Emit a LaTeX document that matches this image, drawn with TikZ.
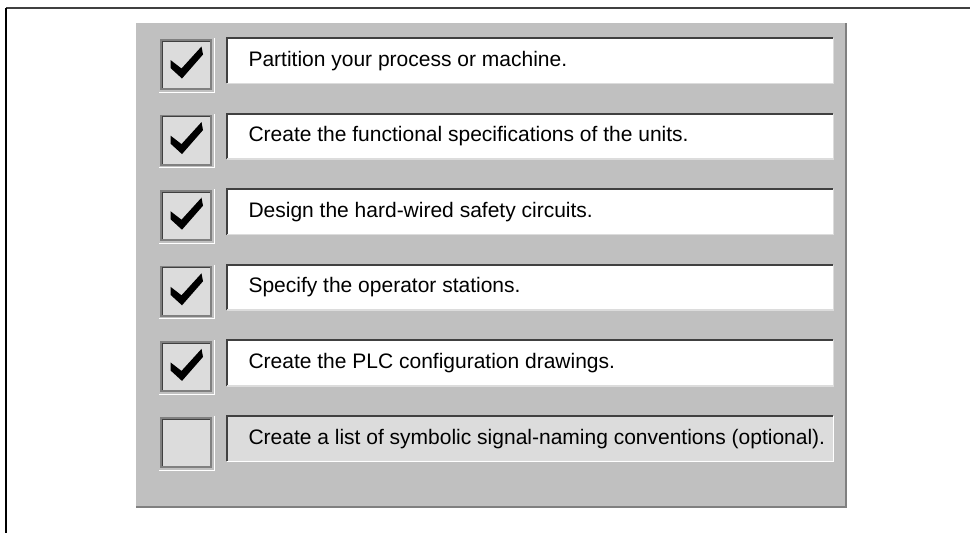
\documentclass[tikz,border=0pt]{standalone}
\usepackage{fontspec}
\setmainfont{Liberation Sans}
\usetikzlibrary{positioning}
\definecolor{panelgray}{HTML}{C0C0C0}
\definecolor{boxgray}{HTML}{DCDCDC}
\definecolor{edgegray}{HTML}{808080}
\definecolor{darkedge}{HTML}{404040}

\begin{document}
\begin{tikzpicture}[x=1pt,y=-1pt]
  \tikzset{chkbox/.style = {draw=edgegray, line width=2pt, fill=boxgray,
      minimum width=50pt, minimum height=49pt, inner sep=0pt},
    taskbox/.style = {minimum width=606pt, minimum height=45pt, inner sep=0pt},
    tasktext/.style = {font=\fontsize{21}{25}\selectfont},
    tick/.style = {fill=black}}
  \useasboundingbox (0,0) rectangle (970,533);
  % outer frame
  \draw[darkedge, line width=2pt] (6,8) -- (970,8);
  \draw[black, line width=2pt] (6,8) -- (6,533);
  % panel
  \fill[panelgray] (136,23) rectangle (847,508);
  \draw[edgegray, line width=2.5pt] (136,507) -- (846,507) -- (846,23);
  \foreach \txt/\fc/\lc [count=\i] in {{Partition your process or machine.}/white/boxgray,
      {Create the functional specifications of the units.}/white/boxgray,
      {Design the hard-wired safety circuits.}/white/boxgray,
      {Specify the operator stations.}/white/boxgray,
      {Create the PLC configuration drawings.}/white/boxgray,
      {Create a list of symbolic signal-naming conventions (optional).}/boxgray/white}{
    \pgfmathsetmacro{\yy}{38+75.6*(\i-1)}
    \node[chkbox] (chk\i) at (186,\yy+26.5) {};
    \draw[white, line width=1pt] ([xshift=-1pt,yshift=-2pt]chk\i.south west) -- ([xshift=2pt,yshift=-2pt]chk\i.south east) -- ([xshift=2pt,yshift=1pt]chk\i.north east);
    \draw[darkedge, line width=1pt] ([xshift=2pt,yshift=2pt]chk\i.south west) -- ([xshift=2pt,yshift=-2pt]chk\i.north west) -- ([xshift=-2pt,yshift=-2pt]chk\i.north east);
    \node[taskbox, fill=\fc, anchor=north west] (task\i) at (227,\yy) {};
    \node[tasktext, anchor=west] (lbl\i) at ([xshift=18pt]task\i.west) {\txt};
    \draw[darkedge, line width=2pt] (task\i.south west) -- (task\i.north west) -- (task\i.north east);
    \draw[\lc, line width=1.5pt] (task\i.south west) -- (task\i.south east) -- (task\i.north east);
  }
  % ticks
  \foreach \i in {1,...,5}{
    \fill[tick] ([shift={(-15.5pt,4.5pt)}]chk\i.center) -- ([shift={(-4.5pt,-4pt)}]chk\i.center)
      -- ([shift={(15.5pt,18pt)}]chk\i.center) -- ([shift={(17pt,10pt)}]chk\i.center)
      -- ([shift={(-4pt,-14pt)}]chk\i.center) -- ([shift={(-15.5pt,-3.5pt)}]chk\i.center) -- cycle;
  }
\end{tikzpicture}
\end{document}
